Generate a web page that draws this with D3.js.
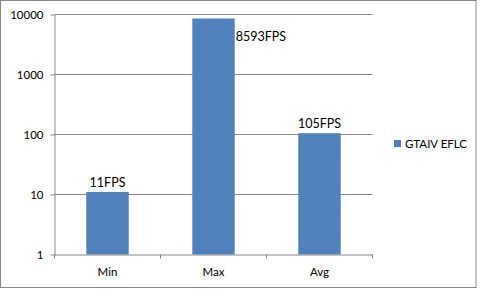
<!DOCTYPE html>
<html>
<head>
<meta charset="utf-8">
<script src="https://cdn.jsdelivr.net/npm/d3@7"></script>
<style>
  body { margin: 0; background: #fff; }
  text { font-family: Lato, "Open Sans", sans-serif; }
</style>
</head>
<body>
<div id="chart"></div>
<script>
// data
const categories = ['Min', 'Max', 'Avg']
const fps = [11, 8593, 105]
const barLabels = ['11FPS', '8593FPS', '105FPS']
const yTicks = [1, 10, 100, 1000, 10000]
const seriesName = 'GTAIV EFLC'

const W = 481, H = 289
const margin = {top: 14.5, left: 54.5, right: 108.5, bottom: 34.5}
const width = W - margin.left - margin.right, height = H - margin.top - margin.bottom

const svg = d3.select('#chart').append('svg')
    .attr('width', W)
    .attr('height', H)

// outer frame
svg.append('rect')
    .attr('x', 0.5).attr('y', 0.5)
    .attr('width', 475.5).attr('height', 287)
    .attr('fill', 'none')
    .attr('stroke', '#868686')

const g = svg.append('g')
    .attr('transform', `translate(${margin.left},${margin.top})`)

const x = d3.scaleBand().domain(categories).range([0, width]).paddingInner(0.6).paddingOuter(0.3)
const xTickScale = d3.scaleBand().domain(categories).range([0, width])
const y = d3.scaleLog().domain([1, 10000]).range([height, 0])

// gridlines
g.append('g')
    .selectAll('line')
    .data(yTicks.slice(1))
    .join('line')
    .attr('x1', 0).attr('x2', width)
    .attr('y1', d => y(d)).attr('y2', d => y(d))
    .attr('stroke', '#868686')

// y axis
const yAxis = g.append('g')
    .call(d3.axisLeft(y).tickValues(yTicks).tickFormat(d3.format('d')).tickSize(4).tickSizeOuter(0).tickPadding(7))
yAxis.select('.domain').attr('stroke', '#868686')
yAxis.selectAll('.tick line').attr('stroke', '#868686')
yAxis.selectAll('.tick text').attr('font-size', 11.5).attr('fill', '#000').attr('font-family', 'Lato')

// bars
g.selectAll('rect.bar')
    .data(fps)
    .join('rect')
    .attr('class', 'bar')
    .attr('x', (d, i) => x(categories[i]))
    .attr('width', x.bandwidth())
    .attr('y', d => y(d))
    .attr('height', d => height - y(d))
    .attr('fill', '#4F81BD')

// x axis
const xAxis = g.append('g')
    .attr('transform', `translate(0,${height})`)
    .call(d3.axisBottom(xTickScale).tickSize(0).tickPadding(13))
xAxis.select('.domain').attr('stroke', '#868686')
xAxis.selectAll('.tick text').attr('font-size', 11.5).attr('fill', '#000').attr('font-family', 'Lato')
// category boundary ticks
xAxis.append('g')
    .selectAll('line')
    .data(d3.range(categories.length + 1))
    .join('line')
    .attr('x1', i => i * xTickScale.step()).attr('x2', i => i * xTickScale.step())
    .attr('y1', 0).attr('y2', 4)
    .attr('stroke', '#868686')

// data labels: Max sits beside its bar top, others above
g.selectAll('text.lbl')
    .data(fps)
    .join('text')
    .attr('class', 'lbl')
    .attr('font-size', 12.5)
    .attr('fill', '#000')
    .attr('text-anchor', (d, i) => i === 1 ? 'start' : 'middle')
    .attr('x', (d, i) => i === 1 ? x(categories[i]) + x.bandwidth() + 1 : x(categories[i]) + x.bandwidth() / 2)
    .attr('y', (d, i) => i === 1 ? y(d) + 23 : y(d) - 5)
    .text((d, i) => barLabels[i])

// legend
const legend = svg.append('g').attr('transform', 'translate(394,140)')
legend.append('rect').attr('width', 7).attr('height', 7).attr('fill', '#4F81BD')
legend.append('text')
    .attr('x', 11).attr('y', 8)
    .attr('font-size', 11.5)
    .attr('fill', '#000')
    .text(seriesName)
</script>
</body>
</html>
